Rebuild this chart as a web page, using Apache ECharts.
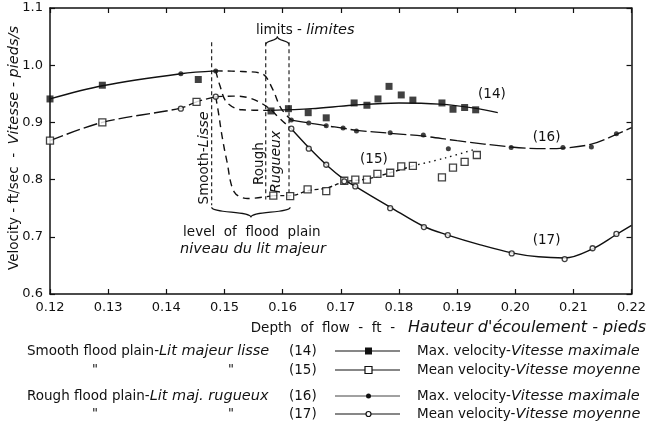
<!DOCTYPE html>
<html lang="en">
<head>
    <meta charset="UTF-8">
    <title>Velocity vs depth of flow</title>
    <script src="https://cdn.jsdelivr.net/npm/echarts@6/dist/echarts.min.js"></script>
    <style>
        html, body { margin: 0; padding: 0; background: #fff; }
    </style>
</head>
<body>

<div id="main" style="width: 649px;height:433px;"></div>

<script type="text/javascript">
    // ---- data ----
    var xMin = 0.12, xMax = 0.22, xStep = 0.01;
    var yMin = 0.6, yMax = 1.1, yStep = 0.1;

    // (14) smooth flood plain, max velocity - filled squares
    var pts14 = [[0.12, 0.941], [0.129, 0.965], [0.1455, 0.975], [0.158, 0.920], [0.161, 0.924],
        [0.1644, 0.917], [0.1675, 0.908], [0.1723, 0.934], [0.1745, 0.930], [0.1764, 0.941],
        [0.1783, 0.963], [0.1804, 0.948], [0.1824, 0.939], [0.1874, 0.934], [0.1893, 0.923],
        [0.1913, 0.926], [0.1932, 0.922]];
    // (15) smooth flood plain, mean velocity - open squares
    var pts15 = [[0.12, 0.868], [0.129, 0.900], [0.1452, 0.936], [0.1584, 0.772], [0.1613, 0.771],
        [0.1643, 0.783], [0.1675, 0.780], [0.1706, 0.798], [0.1725, 0.800], [0.1745, 0.800],
        [0.1763, 0.810], [0.1785, 0.812], [0.1804, 0.823], [0.1824, 0.824], [0.1874, 0.804],
        [0.1893, 0.821], [0.1913, 0.831], [0.1934, 0.843]];
    // (16) rough flood plain, max velocity - filled circles
    var pts16 = [[0.1425, 0.985], [0.1485, 0.990], [0.1615, 0.904], [0.1645, 0.899], [0.1675, 0.894],
        [0.1704, 0.890], [0.1727, 0.885], [0.1785, 0.882], [0.1842, 0.878], [0.1885, 0.854],
        [0.1993, 0.856], [0.2082, 0.856], [0.2131, 0.857], [0.2174, 0.880]];
    // (17) rough flood plain, mean velocity - open circles
    var pts17 = [[0.1425, 0.924], [0.1485, 0.945], [0.1615, 0.889], [0.1645, 0.854], [0.1675, 0.826],
        [0.1706, 0.797], [0.1725, 0.788], [0.1785, 0.750], [0.1843, 0.717], [0.1884, 0.703],
        [0.1994, 0.671], [0.2085, 0.661], [0.2133, 0.680], [0.2174, 0.705]];

    // fitted curves drawn on the figure
    var curveMaxLow = [[0.12, 0.941], [0.129, 0.964], [0.1425, 0.985], [0.1485, 0.990]];
    var curveMeanLow = [[0.12, 0.868], [0.129, 0.900], [0.1425, 0.925], [0.1452, 0.936], [0.1485, 0.945]];
    var curve14 = [[0.158, 0.921], [0.165, 0.924], [0.172, 0.930], [0.18, 0.934], [0.187, 0.932],
        [0.193, 0.925], [0.197, 0.917]];
    var curve15 = [[0.1584, 0.772], [0.1613, 0.772], [0.1645, 0.781], [0.1675, 0.785], [0.1706, 0.796],
        [0.1745, 0.801], [0.1785, 0.812], [0.1824, 0.824]];
    var curve15dots = [[0.1824, 0.824], [0.188, 0.838], [0.1934, 0.854]];
    var curve16 = [[0.1615, 0.904], [0.1645, 0.899], [0.1675, 0.894], [0.1704, 0.890], [0.1727, 0.886],
        [0.1785, 0.881], [0.1842, 0.876], [0.19, 0.868], [0.1993, 0.857], [0.205, 0.854],
        [0.2082, 0.855], [0.2131, 0.862], [0.2174, 0.879], [0.22, 0.891]];
    var curve17 = [[0.1615, 0.889], [0.1645, 0.856], [0.1675, 0.826], [0.1706, 0.800], [0.1725, 0.788],
        [0.1785, 0.752], [0.1843, 0.718], [0.1884, 0.703], [0.194, 0.686], [0.1994, 0.672],
        [0.204, 0.665], [0.2085, 0.663], [0.2133, 0.679], [0.2174, 0.704], [0.22, 0.72]];
    // dashed transitions at the flood plain level
    var trans14 = [[0.1485, 0.990], [0.1492, 0.965], [0.1504, 0.935], [0.153, 0.922], [0.158, 0.921]];
    var trans16 = [[0.1485, 0.990], [0.153, 0.989], [0.1565, 0.985], [0.1582, 0.960], [0.1597, 0.925], [0.1615, 0.904]];
    var trans15 = [[0.1485, 0.945], [0.149, 0.915], [0.1496, 0.875], [0.1504, 0.833], [0.1517, 0.778],
        [0.154, 0.767], [0.1584, 0.772]];
    var trans17 = [[0.1485, 0.945], [0.1515, 0.946], [0.1545, 0.942], [0.1575, 0.926], [0.1597, 0.905], [0.1615, 0.889]];

    var smoothLevel = 0.1478;
    var roughLimits = [0.1571, 0.1611];

    var ink = '#111';
    var fontFam = '"DejaVu Sans", "Noto Sans", sans-serif';

    var myChart = echarts.init(document.getElementById('main'));

    function curve(data, type, width) {
        return {
            type: 'line', data: data, smooth: 0.35, showSymbol: false, silent: true, z: 2,
            lineStyle: {color: ink, width: width || 1.4, type: type}
        };
    }

    function marks(data, symbol, size, open) {
        return {
            type: 'scatter', data: data, symbol: symbol, symbolSize: size, silent: true, z: 5,
            itemStyle: open ? {color: '#fff', borderColor: ink, borderWidth: 1.3} : {color: ink}
        };
    }

    var axLine = {show: true, lineStyle: {color: ink, width: 1.5}};
    var axTick = {show: true, inside: true, length: 5, lineStyle: {color: ink, width: 1.2}};

    myChart.setOption({
        animation: false,
        backgroundColor: '#fff',
        grid: {left: 50, right: 16, top: 8, bottom: 139},
        xAxis: [{
            type: 'value', position: 'bottom', min: xMin, max: xMax, interval: xStep,
            axisLine: axLine, axisTick: axTick, splitLine: {show: false},
            axisLabel: {
                color: ink, fontFamily: fontFam, fontSize: 13, margin: 7,
                formatter: function (v) { return v.toFixed(2); }
            }
        }, {
            type: 'value', position: 'top', min: xMin, max: xMax, interval: xStep,
            axisLine: axLine, axisTick: axTick, splitLine: {show: false},
            axisLabel: {show: false}
        }],
        yAxis: [{
            type: 'value', position: 'left', min: yMin, max: yMax, interval: yStep,
            axisLine: axLine, axisTick: axTick, splitLine: {show: false},
            axisLabel: {
                color: ink, fontFamily: fontFam, fontSize: 13, margin: 7,
                formatter: function (v) { return v.toFixed(1); }
            }
        }, {
            type: 'value', position: 'right', min: yMin, max: yMax, interval: yStep,
            axisLine: axLine, axisTick: axTick, splitLine: {show: false},
            axisLabel: {show: false}
        }],
        series: [
            curve(curveMaxLow, 'solid'),
            curve(curveMeanLow, [14, 4]),
            curve(curve14, 'solid'),
            curve(curve15, [4, 3]),
            curve(curve15dots, [1.5, 4]),
            curve(curve16, [16, 4], 1.3),
            curve(curve17, 'solid'),
            curve(trans14, [7, 5]),
            curve(trans16, [7, 5]),
            curve(trans15, [7, 5]),
            curve(trans17, [7, 5]),
            marks(pts14, 'rect', 7, false),
            marks(pts15, 'rect', 7, true),
            marks(pts16, 'circle', 5, false),
            marks(pts17, 'circle', 5, true)
        ]
    });

    // ---- annotations placed through the axes ----
    function px(x, y) { return myChart.convertToPixel({gridIndex: 0}, [x, y]); }

    function txt(x, y, text, opts) {
        opts = opts || {};
        var fs = opts.size || 13.5;
        var fi = opts.isize || 14.5;
        return {
            type: 'text', x: x, y: y, rotation: opts.rot || 0, silent: true, z: 20,
            style: {
                text: text, fill: ink, font: fs + 'px ' + fontFam,
                textAlign: opts.align || 'left', align: opts.align || 'left',
                textVerticalAlign: 'middle', verticalAlign: 'middle',
                rich: {
                    n: {fontSize: fs, fontFamily: fontFam, fill: ink},
                    i: {fontSize: fi, fontFamily: fontFam, fontStyle: 'italic', fill: ink}
                }
            }
        };
    }

    function vline(xv, y0, y1) {
        var a = px(xv, y0), b = px(xv, y1);
        return {
            type: 'line', silent: true, z: 3,
            shape: {x1: a[0], y1: a[1], x2: b[0], y2: b[1]},
            style: {stroke: ink, lineWidth: 1.1, lineDash: [4, 3]}
        };
    }

    // curly brace made of two bezier halves; dir = -1 tip up, +1 tip down
    function brace(x0, x1, y, dir, h) {
        var m = (x0 + x1) / 2;
        var st = {stroke: ink, fill: null, lineWidth: 1.2};
        return [{
            type: 'bezierCurve', silent: true, z: 3,
            shape: {x1: x0, y1: y - dir * h, cpx1: x0, cpy1: y + dir * 1, cpx2: m, cpy2: y - dir * 1, x2: m, y2: y + dir * h},
            style: st
        }, {
            type: 'bezierCurve', silent: true, z: 3,
            shape: {x1: m, y1: y + dir * h, cpx1: m, cpy1: y - dir * 1, cpx2: x1, cpy2: y + dir * 1, x2: x1, y2: y - dir * h},
            style: st
        }];
    }

    var g = [];
    g.push(vline(smoothLevel, 1.04, 0.755));
    g.push(vline(roughLimits[0], 1.04, 0.765));
    g.push(vline(roughLimits[1], 1.04, 0.765));

    var tl = px(roughLimits[0], 1.043), tr = px(roughLimits[1], 1.043);
    g = g.concat(brace(tl[0], tr[0], tl[1], -1, 4));
    var bl = px(smoothLevel, 0.743), br = px(roughLimits[1] + 0.0002, 0.743);
    g = g.concat(brace(bl[0], br[0], bl[1], 1, 5));

    var p;
    p = px(0.1639, 1.061);
    g.push(txt(p[0], p[1], '{n|limits - }{i|limites}', {align: 'center'}));
    p = px(0.1465, 0.838);
    g.push(txt(p[0], p[1], '{n|Smooth-}{i|Lisse}', {align: 'center', rot: Math.PI / 2}));
    p = px(0.1561, 0.828);
    g.push(txt(p[0], p[1], '{n|Rough}', {align: 'center', rot: Math.PI / 2}));
    p = px(0.1589, 0.831);
    g.push(txt(p[0], p[1], '{i|Rugueux}', {align: 'center', rot: Math.PI / 2, isize: 14}));
    p = px(0.1547, 0.707);
    g.push(txt(p[0], p[1], '{n|level  of  flood  plain}', {align: 'center'}));
    p = px(0.1549, 0.679);
    g.push(txt(p[0], p[1], '{i|niveau du lit majeur}', {align: 'center'}));

    p = px(0.196, 0.949);
    g.push(txt(p[0], p[1], '(14)', {align: 'center'}));
    p = px(0.1757, 0.835);
    g.push(txt(p[0], p[1], '(15)', {align: 'center'}));
    p = px(0.2054, 0.874);
    g.push(txt(p[0], p[1], '(16)', {align: 'center'}));
    p = px(0.2054, 0.694);
    g.push(txt(p[0], p[1], '(17)', {align: 'center'}));

    // axis titles
    g.push(txt(14, 148, '{n|Velocity - ft/sec  -  }{i|Vitesse - pieds/s}', {align: 'center', rot: Math.PI / 2}));
    g.push(txt(646, 328, '{n|Depth  of  flow  -  ft  -   }{i|Hauteur d\'écoulement - pieds}', {align: 'right', isize: 16}));

    // key under the chart
    var keyRows = [
        {y: 351, left: '{n|Smooth flood plain-}{i|Lit majeur lisse}', num: '(14)', sym: 'sq', fill: true,
            right: '{n|Max. velocity-}{i|Vitesse maximale}', thin: false},
        {y: 370, left: null, num: '(15)', sym: 'sq', fill: false,
            right: '{n|Mean velocity-}{i|Vitesse moyenne}', thin: false},
        {y: 396, left: '{n|Rough flood plain-}{i|Lit maj. rugueux}', num: '(16)', sym: 'ci', fill: true,
            right: '{n|Max. velocity-}{i|Vitesse maximale}', thin: true},
        {y: 414, left: null, num: '(17)', sym: 'ci', fill: false,
            right: '{n|Mean velocity-}{i|Vitesse moyenne}', thin: false}
    ];
    keyRows.forEach(function (r) {
        if (r.left) {
            g.push(txt(27, r.y, r.left));
        } else {
            g.push(txt(95, r.y, '{n|"}', {align: 'center', size: 13}));
            g.push(txt(231, r.y, '{n|"}', {align: 'center', size: 13}));
        }
        g.push(txt(289, r.y, r.num));
        g.push({
            type: 'line', silent: true, z: 3,
            shape: {x1: 335, y1: r.y, x2: 400, y2: r.y},
            style: {stroke: ink, lineWidth: r.thin ? 0.8 : 1.2}
        });
        if (r.sym === 'sq') {
            g.push({
                type: 'rect', silent: true, z: 4,
                shape: {x: 365, y: r.y - 3.5, width: 7, height: 7},
                style: r.fill ? {fill: ink} : {fill: '#fff', stroke: ink, lineWidth: 1.2}
            });
        } else {
            g.push({
                type: 'circle', silent: true, z: 4,
                shape: {cx: 368.5, cy: r.y, r: 2.5},
                style: r.fill ? {fill: ink} : {fill: '#fff', stroke: ink, lineWidth: 1.2}
            });
        }
        g.push(txt(417, r.y, r.right));
    });

    myChart.setOption({graphic: g});
</script>

</body>
</html>
